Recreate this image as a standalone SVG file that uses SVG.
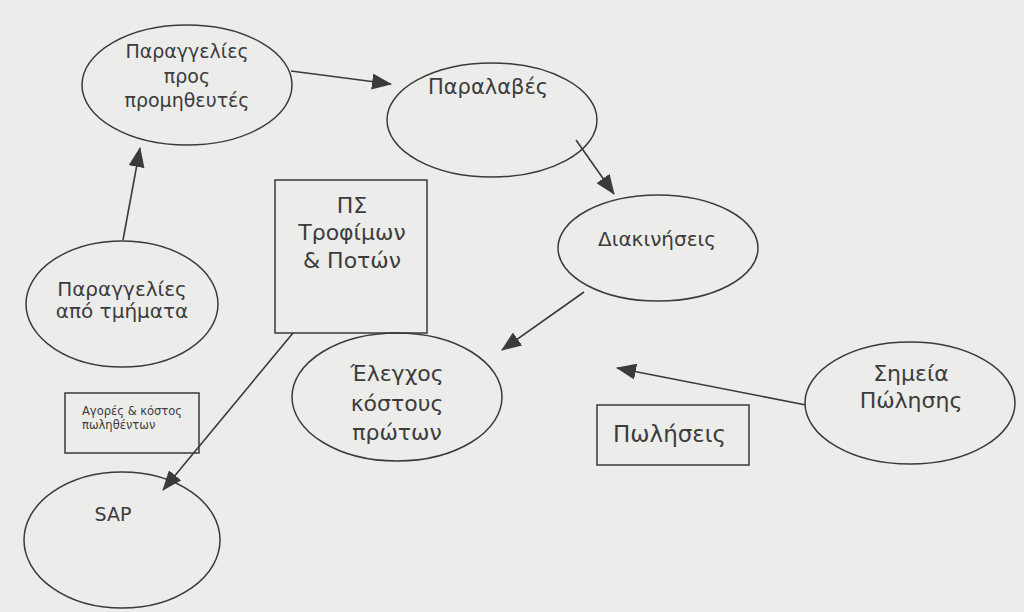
<svg xmlns="http://www.w3.org/2000/svg" width="1024" height="612" viewBox="0 0 1024 612">
<style>
.n{fill:none;stroke:#3a3a3a;stroke-width:1.5}
.t{font-family:"DejaVu Sans","Liberation Sans",sans-serif;fill:#3c3c3c;text-anchor:middle}
.c{stroke:#3a3a3a;stroke-width:1.6;fill:none;marker-end:url(#ah)}
</style>
<defs>
<marker id="ah" markerUnits="userSpaceOnUse" markerWidth="20" markerHeight="16" viewBox="0 0 20 16" refX="19" refY="8" orient="auto">
<path d="M0,0 L20,8 L0,16 Z" fill="#3a3a3a"/>
</marker>
</defs>
<rect width="1024" height="612" fill="#ececea"/>
<g id="connectors">
<line class="c" x1="291" y1="71" x2="391" y2="84"/>
<line class="c" x1="576" y1="140" x2="614" y2="194"/>
<line class="c" x1="584" y1="292" x2="502" y2="350"/>
<line class="c" x1="123" y1="240" x2="140" y2="148"/>
<line class="c" x1="293" y1="333" x2="163" y2="490"/>
<line class="c" x1="806" y1="405" x2="617" y2="368"/>
</g>
<g id="n1">
<ellipse class="n" cx="187" cy="85" rx="105" ry="60"/>
<text class="t" font-size="19" x="187" y="58">Παραγγελίες</text>
<text class="t" font-size="19" x="187" y="83">προς</text>
<text class="t" font-size="19" x="187" y="107">προμηθευτές</text>
</g>
<g id="n2">
<ellipse class="n" cx="492" cy="120" rx="105" ry="57"/>
<text class="t" font-size="21" x="488" y="94">Παραλαβές</text>
</g>
<g id="n3">
<ellipse class="n" cx="658" cy="248" rx="100" ry="53"/>
<text class="t" font-size="20" x="657" y="246">Διακινήσεις</text>
</g>
<g id="n4">
<ellipse class="n" cx="397" cy="397" rx="105" ry="64"/>
<text class="t" font-size="22" x="397" y="381">Έλεγχος</text>
<text class="t" font-size="22" x="397" y="411">κόστους</text>
<text class="t" font-size="22" x="397" y="440">πρώτων</text>
</g>
<g id="n5">
<rect class="n" x="275" y="180" width="152" height="153"/>
<text class="t" font-size="22" x="352" y="213">ΠΣ</text>
<text class="t" font-size="22" x="352" y="240">Τροφίμων</text>
<text class="t" font-size="22" x="352" y="268">&amp; Ποτών</text>
</g>
<g id="n6">
<ellipse class="n" cx="122" cy="304" rx="96" ry="63"/>
<text class="t" font-size="20" x="122" y="296">Παραγγελίες</text>
<text class="t" font-size="20" x="122" y="318">από τμήματα</text>
</g>
<g id="n7">
<rect class="n" x="65" y="393" width="134" height="60"/>
<text class="t" font-size="11.5" x="82" y="415" style="text-anchor:start">Αγορές &amp; κόστος</text>
<text class="t" font-size="11.5" x="82" y="429" style="text-anchor:start">πωληθέντων</text>
</g>
<g id="n8">
<ellipse class="n" cx="122" cy="540" rx="98" ry="68"/>
<text class="t" font-size="19" x="113" y="521">SAP</text>
</g>
<g id="n9">
<rect class="n" x="597" y="405" width="152" height="60"/>
<text class="t" font-size="23" x="613" y="442" style="text-anchor:start">Πωλήσεις</text>
</g>
<g id="n10">
<ellipse class="n" cx="910" cy="403" rx="105" ry="61"/>
<text class="t" font-size="22" x="911" y="381">Σημεία</text>
<text class="t" font-size="22" x="911" y="408">Πώλησης</text>
</g>
</svg>
